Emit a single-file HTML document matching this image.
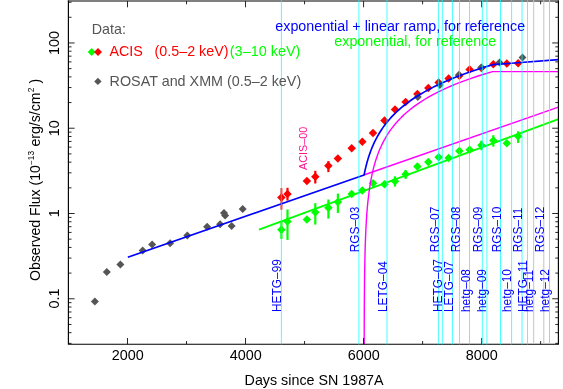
<!DOCTYPE html>
<html><head><meta charset="utf-8"><title>SN 1987A light curve</title>
<style>html,body{margin:0;padding:0;background:#fff;}svg{display:block}</style></head>
<body>
<svg width="563" height="389" viewBox="0 0 563 389" font-family="Liberation Sans, sans-serif" style="will-change:transform;transform:translateZ(0)">
<rect width="563" height="389" fill="#fff"/>
<defs><clipPath id="c"><rect x="68.4" y="1.1" width="490.0" height="343.09999999999997"/></clipPath></defs>
<line x1="281.40" y1="221.40" x2="281.40" y2="238.90" stroke="#00ff00" stroke-width="2.2"/>
<path d="M277.15 229.80L281.40 225.55L285.65 229.80L281.40 234.05Z" fill="#00ff00"/>
<line x1="287.50" y1="209.50" x2="287.50" y2="239.90" stroke="#00ff00" stroke-width="2.2"/>
<path d="M283.25 221.50L287.50 217.25L291.75 221.50L287.50 225.75Z" fill="#00ff00"/>
<path d="M302.65 219.60L306.90 215.35L311.15 219.60L306.90 223.85Z" fill="#00ff00"/>
<line x1="315.30" y1="203.20" x2="315.30" y2="224.60" stroke="#00ff00" stroke-width="2.2"/>
<path d="M311.05 212.30L315.30 208.05L319.55 212.30L315.30 216.55Z" fill="#00ff00"/>
<line x1="328.40" y1="199.50" x2="328.40" y2="218.60" stroke="#00ff00" stroke-width="2.2"/>
<path d="M324.15 207.80L328.40 203.55L332.65 207.80L328.40 212.05Z" fill="#00ff00"/>
<line x1="337.90" y1="193.60" x2="337.90" y2="212.90" stroke="#00ff00" stroke-width="2.2"/>
<path d="M333.65 202.00L337.90 197.75L342.15 202.00L337.90 206.25Z" fill="#00ff00"/>
<path d="M347.45 193.90L351.70 189.65L355.95 193.90L351.70 198.15Z" fill="#00ff00"/>
<path d="M358.05 190.60L362.30 186.35L366.55 190.60L362.30 194.85Z" fill="#00ff00"/>
<path d="M368.75 183.30L373.00 179.05L377.25 183.30L373.00 187.55Z" fill="#00ff00"/>
<path d="M380.25 184.30L384.50 180.05L388.75 184.30L384.50 188.55Z" fill="#00ff00"/>
<line x1="395.00" y1="176.30" x2="395.00" y2="186.60" stroke="#00ff00" stroke-width="2.2"/>
<path d="M390.75 181.30L395.00 177.05L399.25 181.30L395.00 185.55Z" fill="#00ff00"/>
<line x1="405.60" y1="169.90" x2="405.60" y2="178.90" stroke="#00ff00" stroke-width="2.2"/>
<path d="M401.35 174.30L405.60 170.05L409.85 174.30L405.60 178.55Z" fill="#00ff00"/>
<path d="M413.15 166.40L417.40 162.15L421.65 166.40L417.40 170.65Z" fill="#00ff00"/>
<path d="M424.05 162.10L428.30 157.85L432.55 162.10L428.30 166.35Z" fill="#00ff00"/>
<path d="M434.35 157.20L438.60 152.95L442.85 157.20L438.60 161.45Z" fill="#00ff00"/>
<path d="M444.35 158.00L448.60 153.75L452.85 158.00L448.60 162.25Z" fill="#00ff00"/>
<path d="M455.05 150.90L459.30 146.65L463.55 150.90L459.30 155.15Z" fill="#00ff00"/>
<path d="M465.35 149.80L469.60 145.55L473.85 149.80L469.60 154.05Z" fill="#00ff00"/>
<line x1="481.40" y1="140.60" x2="481.40" y2="150.20" stroke="#00ff00" stroke-width="2.2"/>
<path d="M477.15 145.20L481.40 140.95L485.65 145.20L481.40 149.45Z" fill="#00ff00"/>
<line x1="493.30" y1="135.20" x2="493.30" y2="146.70" stroke="#00ff00" stroke-width="2.2"/>
<path d="M489.05 140.60L493.30 136.35L497.55 140.60L493.30 144.85Z" fill="#00ff00"/>
<path d="M502.55 143.20L506.80 138.95L511.05 143.20L506.80 147.45Z" fill="#00ff00"/>
<line x1="518.10" y1="131.30" x2="518.10" y2="142.90" stroke="#00ff00" stroke-width="2.2"/>
<path d="M513.85 136.20L518.10 131.95L522.35 136.20L518.10 140.45Z" fill="#00ff00"/>
<line x1="281.40" y1="188.00" x2="281.40" y2="209.70" stroke="#ff8080" stroke-width="2.6"/>
<path d="M277.15 197.40L281.40 193.15L285.65 197.40L281.40 201.65Z" fill="#ff0000"/>
<line x1="287.50" y1="187.80" x2="287.50" y2="200.60" stroke="#ff0000" stroke-width="2.2"/>
<path d="M283.25 194.00L287.50 189.75L291.75 194.00L287.50 198.25Z" fill="#ff0000"/>
<path d="M302.65 181.00L306.90 176.75L311.15 181.00L306.90 185.25Z" fill="#ff0000"/>
<line x1="315.30" y1="170.80" x2="315.30" y2="183.50" stroke="#ff0000" stroke-width="2.2"/>
<path d="M311.05 176.80L315.30 172.55L319.55 176.80L315.30 181.05Z" fill="#ff0000"/>
<line x1="328.40" y1="161.10" x2="328.40" y2="172.10" stroke="#ff0000" stroke-width="2.2"/>
<path d="M324.15 165.70L328.40 161.45L332.65 165.70L328.40 169.95Z" fill="#ff0000"/>
<path d="M333.65 158.50L337.90 154.25L342.15 158.50L337.90 162.75Z" fill="#ff0000"/>
<path d="M347.45 148.20L351.70 143.95L355.95 148.20L351.70 152.45Z" fill="#ff0000"/>
<path d="M358.05 141.70L362.30 137.45L366.55 141.70L362.30 145.95Z" fill="#ff0000"/>
<path d="M368.75 133.00L373.00 128.75L377.25 133.00L373.00 137.25Z" fill="#ff0000"/>
<path d="M380.25 120.50L384.50 116.25L388.75 120.50L384.50 124.75Z" fill="#ff0000"/>
<path d="M390.75 109.40L395.00 105.15L399.25 109.40L395.00 113.65Z" fill="#ff0000"/>
<path d="M401.35 101.90L405.60 97.65L409.85 101.90L405.60 106.15Z" fill="#ff0000"/>
<path d="M413.15 94.00L417.40 89.75L421.65 94.00L417.40 98.25Z" fill="#ff0000"/>
<path d="M424.05 88.00L428.30 83.75L432.55 88.00L428.30 92.25Z" fill="#ff0000"/>
<path d="M434.35 82.40L438.60 78.15L442.85 82.40L438.60 86.65Z" fill="#ff0000"/>
<path d="M444.35 78.50L448.60 74.25L452.85 78.50L448.60 82.75Z" fill="#ff0000"/>
<path d="M455.05 75.70L459.30 71.45L463.55 75.70L459.30 79.95Z" fill="#ff0000"/>
<path d="M465.35 69.60L469.60 65.35L473.85 69.60L469.60 73.85Z" fill="#ff0000"/>
<path d="M477.15 68.00L481.40 63.75L485.65 68.00L481.40 72.25Z" fill="#ff0000"/>
<path d="M489.05 64.30L493.30 60.05L497.55 64.30L493.30 68.55Z" fill="#ff0000"/>
<path d="M502.55 63.60L506.80 59.35L511.05 63.60L506.80 67.85Z" fill="#ff0000"/>
<path d="M513.85 63.20L518.10 58.95L522.35 63.20L518.10 67.45Z" fill="#ff0000"/>
<path d="M90.90 301.60L94.90 297.60L98.90 301.60L94.90 305.60Z" fill="#555555"/>
<path d="M102.80 272.10L106.80 268.10L110.80 272.10L106.80 276.10Z" fill="#555555"/>
<path d="M116.40 264.50L120.40 260.50L124.40 264.50L120.40 268.50Z" fill="#555555"/>
<path d="M138.70 250.50L142.70 246.50L146.70 250.50L142.70 254.50Z" fill="#555555"/>
<path d="M148.10 244.40L152.10 240.40L156.10 244.40L152.10 248.40Z" fill="#555555"/>
<path d="M166.10 243.30L170.10 239.30L174.10 243.30L170.10 247.30Z" fill="#555555"/>
<path d="M183.30 235.40L187.30 231.40L191.30 235.40L187.30 239.40Z" fill="#555555"/>
<path d="M203.10 226.80L207.10 222.80L211.10 226.80L207.10 230.80Z" fill="#555555"/>
<path d="M216.10 224.20L220.10 220.20L224.10 224.20L220.10 228.20Z" fill="#555555"/>
<path d="M220.00 213.10L224.00 209.10L228.00 213.10L224.00 217.10Z" fill="#555555"/>
<path d="M221.10 215.60L225.10 211.60L229.10 215.60L225.10 219.60Z" fill="#555555"/>
<path d="M227.60 226.00L231.60 222.00L235.60 226.00L231.60 230.00Z" fill="#555555"/>
<path d="M238.70 209.10L242.70 205.10L246.70 209.10L242.70 213.10Z" fill="#555555"/>
<path d="M413.90 97.00L417.80 93.10L421.70 97.00L417.80 100.90Z" fill="#555555"/>
<path d="M436.00 85.00L439.90 81.10L443.80 85.00L439.90 88.90Z" fill="#555555"/>
<path d="M455.10 74.70L459.00 70.80L462.90 74.70L459.00 78.60Z" fill="#555555"/>
<path d="M477.50 67.30L481.40 63.40L485.30 67.30L481.40 71.20Z" fill="#555555"/>
<path d="M495.60 62.50L499.50 58.60L503.40 62.50L499.50 66.40Z" fill="#555555"/>
<path d="M518.60 57.50L522.50 53.60L526.40 57.50L522.50 61.40Z" fill="#555555"/>
<g clip-path="url(#c)"><line x1="259" y1="229.6" x2="558.4" y2="119.12" stroke="#00ff00" stroke-width="1.8"/><line x1="363.80" y1="175.01" x2="558.40" y2="107.20" stroke="#ff00ff" stroke-width="1.4"/><polyline points="364.10,525.85 364.10,523.30 364.10,520.74 364.10,518.19 364.10,515.64 364.10,513.08 364.10,510.53 364.10,507.98 364.10,505.42 364.10,502.87 364.10,500.32 364.10,497.77 364.10,495.21 364.10,492.66 364.10,490.11 364.10,487.55 364.10,485.00 364.10,482.45 364.10,479.89 364.10,477.34 364.10,474.79 364.10,472.24 364.10,469.68 364.10,467.13 364.10,464.58 364.10,462.02 364.10,459.47 364.10,456.92 364.10,454.36 364.10,451.81 364.10,449.26 364.10,446.71 364.10,444.15 364.10,441.60 364.10,439.05 364.10,436.49 364.10,433.94 364.10,431.39 364.10,428.83 364.10,426.28 364.10,423.73 364.11,421.18 364.11,418.62 364.11,416.07 364.11,413.52 364.11,410.96 364.11,408.41 364.11,405.86 364.11,403.30 364.11,400.75 364.11,398.20 364.11,395.65 364.12,393.09 364.12,390.54 364.12,387.99 364.12,385.43 364.12,382.88 364.13,380.33 364.13,377.77 364.13,375.22 364.13,372.67 364.13,370.12 364.14,367.56 364.14,365.01 364.14,362.46 364.15,359.90 364.15,357.35 364.16,354.80 364.16,352.24 364.16,349.69 364.17,347.14 364.17,344.59 364.18,342.03 364.19,339.48 364.19,336.93 364.20,334.37 364.21,331.82 364.22,329.27 364.22,326.71 364.23,324.16 364.24,321.61 364.25,319.06 364.27,316.50 364.28,313.95 364.29,311.40 364.30,308.84 364.32,306.29 364.34,303.74 364.35,301.18 364.37,298.63 364.39,296.08 364.41,293.53 364.43,290.97 364.46,288.42 364.48,285.87 364.51,283.31 364.54,280.76 364.57,278.21 364.61,275.65 364.65,273.10 364.69,270.55 364.73,268.00 364.77,265.44 364.82,262.89 364.87,260.34 364.93,257.78 364.99,255.23 365.05,252.68 365.12,250.12 365.19,247.57 365.27,245.02 365.36,242.47 365.45,239.91 365.54,237.36 365.65,234.81 365.76,232.25 365.88,229.70 366.00,227.15 366.14,224.59 366.29,222.04 366.44,219.49 366.61,216.94 366.79,214.38 366.98,211.83 367.19,209.28 367.41,206.72 367.65,204.17 367.90,201.62 368.18,199.06 368.47,196.51 368.78,193.96 369.12,191.41 369.48,188.85 369.86,186.30 370.27,183.75 370.71,181.19 371.19,178.64 371.70,176.09 372.24,173.53 372.82,170.98 373.45,168.43 374.11,165.88 374.83,163.32 375.60,160.77 376.42,158.22 377.30,155.66 378.25,153.11 379.26,150.56 380.34,148.00 381.51,145.45 382.75,142.90 384.09,140.35 385.52,137.79 387.05,135.24 388.69,132.69 390.45,130.13 392.33,127.58 394.35,125.03 396.52,122.47 398.84,119.92 401.32,117.37 403.98,114.82 406.84,112.26 409.89,109.71 413.17,107.16 416.68,104.60 420.44,102.05 424.47,99.50 428.79,96.94 433.41,94.39 438.37,91.84 443.68,89.29 449.38,86.73 455.48,84.18 462.01,81.63 469.01,79.07 476.52,76.52 484.56,73.97 492.60,71.58 558.40,71.58" fill="none" stroke="#ff00ff" stroke-width="1.4" stroke-linejoin="round"/><polyline points="127.80,257.25 364.09,174.91 364.10,174.91 364.10,174.91 364.10,174.91 364.10,174.90 364.10,174.90 364.10,174.90 364.10,174.90 364.10,174.90 364.10,174.90 364.10,174.90 364.10,174.90 364.10,174.90 364.10,174.90 364.10,174.90 364.10,174.90 364.10,174.90 364.10,174.90 364.10,174.90 364.10,174.90 364.10,174.90 364.10,174.90 364.10,174.90 364.10,174.89 364.10,174.89 364.10,174.89 364.10,174.89 364.10,174.89 364.10,174.89 364.10,174.89 364.10,174.89 364.10,174.88 364.10,174.88 364.10,174.88 364.10,174.88 364.10,174.88 364.10,174.88 364.10,174.87 364.10,174.87 364.10,174.87 364.10,174.86 364.10,174.86 364.11,174.86 364.11,174.85 364.11,174.85 364.11,174.85 364.11,174.84 364.11,174.84 364.11,174.83 364.11,174.83 364.11,174.82 364.11,174.81 364.11,174.81 364.12,174.80 364.12,174.79 364.12,174.78 364.12,174.78 364.12,174.77 364.13,174.76 364.13,174.74 364.13,174.73 364.13,174.72 364.13,174.71 364.14,174.69 364.14,174.68 364.14,174.66 364.15,174.64 364.15,174.62 364.16,174.60 364.16,174.58 364.16,174.56 364.17,174.53 364.17,174.51 364.18,174.48 364.19,174.45 364.19,174.42 364.20,174.38 364.21,174.34 364.22,174.30 364.22,174.26 364.23,174.22 364.24,174.17 364.25,174.11 364.27,174.06 364.28,174.00 364.29,173.93 364.30,173.86 364.32,173.79 364.34,173.71 364.35,173.63 364.37,173.54 364.39,173.44 364.41,173.34 364.43,173.23 364.46,173.11 364.48,172.99 364.51,172.85 364.54,172.71 364.57,172.56 364.61,172.40 364.65,172.22 364.69,172.04 364.73,171.84 364.77,171.63 364.82,171.41 364.87,171.17 364.93,170.92 364.99,170.65 365.05,170.36 365.12,170.05 365.19,169.73 365.27,169.39 365.36,169.02 365.45,168.63 365.54,168.22 365.65,167.79 365.76,167.33 365.88,166.84 366.00,166.32 366.14,165.78 366.29,165.21 366.44,164.60 366.61,163.96 366.79,163.29 366.98,162.58 367.19,161.84 367.41,161.06 367.65,160.24 367.90,159.38 368.18,158.49 368.47,157.55 368.78,156.57 369.12,155.55 369.48,154.49 369.86,153.38 370.27,152.23 370.71,151.03 371.19,149.79 371.70,148.51 372.24,147.18 372.82,145.80 373.45,144.39 374.11,142.92 374.83,141.42 375.60,139.87 376.42,138.28 377.30,136.65 378.25,134.97 379.26,133.26 380.34,131.50 381.51,129.71 382.75,127.88 384.09,126.01 385.52,124.10 387.05,122.16 388.69,120.19 390.45,118.18 392.33,116.14 394.35,114.07 396.52,111.97 398.84,109.85 401.32,107.69 403.98,105.50 406.84,103.29 409.89,101.05 413.17,98.79 416.68,96.50 420.44,94.19 424.47,91.86 428.79,89.50 433.41,87.11 438.37,84.71 443.68,82.28 449.38,79.82 455.48,77.34 462.01,74.83 469.01,72.30 476.52,69.74 484.56,67.14 492.60,64.68 558.40,59.64" fill="none" stroke="#0000ff" stroke-width="1.65" stroke-linejoin="round"/></g>
<path d="M68.4 0.6000000000000001V344.2H558.4V0.6000000000000001" fill="none" stroke="#000" stroke-width="1.15" stroke-linejoin="miter"/>
<line x1="67.83000000000001" y1="1.0" x2="558.97" y2="1.0" stroke="#000" stroke-width="1.0"/>
<path d="M127.50 344.2v-6.2M127.50 1.1v6.2M186.52 344.2v-3.2M186.52 1.1v3.2M245.54 344.2v-6.2M245.54 1.1v6.2M304.56 344.2v-3.2M304.56 1.1v3.2M363.58 344.2v-6.2M363.58 1.1v6.2M422.60 344.2v-3.2M422.60 1.1v3.2M481.62 344.2v-6.2M481.62 1.1v6.2M540.64 344.2v-3.2M540.64 1.1v3.2M68.4 343.36h3.1M558.4 343.36h-3.1M68.4 332.70h3.1M558.4 332.70h-3.1M68.4 324.44h3.1M558.4 324.44h-3.1M68.4 317.69h3.1M558.4 317.69h-3.1M68.4 311.98h3.1M558.4 311.98h-3.1M68.4 307.03h3.1M558.4 307.03h-3.1M68.4 302.67h3.1M558.4 302.67h-3.1M68.4 298.77h6.2M558.4 298.77h-6.2M68.4 273.10h3.1M558.4 273.10h-3.1M68.4 258.09h3.1M558.4 258.09h-3.1M68.4 247.43h3.1M558.4 247.43h-3.1M68.4 239.17h3.1M558.4 239.17h-3.1M68.4 232.42h3.1M558.4 232.42h-3.1M68.4 226.71h3.1M558.4 226.71h-3.1M68.4 221.76h3.1M558.4 221.76h-3.1M68.4 217.40h3.1M558.4 217.40h-3.1M68.4 213.50h6.2M558.4 213.50h-6.2M68.4 187.83h3.1M558.4 187.83h-3.1M68.4 172.82h3.1M558.4 172.82h-3.1M68.4 162.16h3.1M558.4 162.16h-3.1M68.4 153.90h3.1M558.4 153.90h-3.1M68.4 147.15h3.1M558.4 147.15h-3.1M68.4 141.44h3.1M558.4 141.44h-3.1M68.4 136.49h3.1M558.4 136.49h-3.1M68.4 132.13h3.1M558.4 132.13h-3.1M68.4 128.23h6.2M558.4 128.23h-6.2M68.4 102.56h3.1M558.4 102.56h-3.1M68.4 87.55h3.1M558.4 87.55h-3.1M68.4 76.89h3.1M558.4 76.89h-3.1M68.4 68.63h3.1M558.4 68.63h-3.1M68.4 61.88h3.1M558.4 61.88h-3.1M68.4 56.17h3.1M558.4 56.17h-3.1M68.4 51.22h3.1M558.4 51.22h-3.1M68.4 46.86h3.1M558.4 46.86h-3.1M68.4 42.96h6.2M558.4 42.96h-6.2M68.4 17.29h3.1M558.4 17.29h-3.1M68.4 2.28h3.1M558.4 2.28h-3.1" stroke="#000" stroke-width="0.85" fill="none"/>
<line x1="281.4" y1="0" x2="281.4" y2="344.5" stroke="#00ffff" stroke-width="0.85" opacity="0.85"/>
<line x1="358.9" y1="0" x2="358.9" y2="344.5" stroke="#00ffff" stroke-width="0.85" opacity="0.85"/>
<line x1="387.0" y1="0" x2="387.0" y2="344.5" stroke="#00ffff" stroke-width="0.85" opacity="0.85"/>
<line x1="438.4" y1="0" x2="438.4" y2="344.5" stroke="#00ffff" stroke-width="0.85" opacity="0.85"/>
<line x1="442.3" y1="0" x2="442.3" y2="344.5" stroke="#00ffff" stroke-width="0.85" opacity="0.85"/>
<line x1="452.4" y1="0" x2="452.4" y2="344.5" stroke="#00ffff" stroke-width="0.85" opacity="0.85"/>
<line x1="459.5" y1="0" x2="459.5" y2="344.5" stroke="#00ffff" stroke-width="0.85" opacity="0.85"/>
<line x1="469.5" y1="0" x2="469.5" y2="344.5" stroke="#00ffff" stroke-width="0.85" opacity="0.85"/>
<line x1="482.3" y1="0" x2="482.3" y2="344.5" stroke="#00ffff" stroke-width="0.85" opacity="0.85"/>
<line x1="486.9" y1="0" x2="486.9" y2="344.5" stroke="#00ffff" stroke-width="0.85" opacity="0.85"/>
<line x1="500.5" y1="0" x2="500.5" y2="344.5" stroke="#00ffff" stroke-width="0.85" opacity="0.85"/>
<line x1="511.6" y1="0" x2="511.6" y2="344.5" stroke="#00ffff" stroke-width="0.85" opacity="0.85"/>
<line x1="522.0" y1="0" x2="522.0" y2="344.5" stroke="#00ffff" stroke-width="0.85" opacity="0.85"/>
<line x1="527.5" y1="0" x2="527.5" y2="344.5" stroke="#00ffff" stroke-width="0.85" opacity="0.85"/>
<line x1="533.7" y1="0" x2="533.7" y2="343.7" stroke="#c4c4c4" stroke-width="1"/>
<line x1="543.8" y1="0" x2="543.8" y2="343.7" stroke="#c4c4c4" stroke-width="1"/>
<line x1="549.5" y1="0" x2="549.5" y2="343.7" stroke="#c4c4c4" stroke-width="1"/>
<line x1="281.4" y1="188" x2="281.4" y2="209.7" stroke="#808080" stroke-width="1"/>
<text x="127.80" y="360" font-size="14.4" text-anchor="middle" fill="#000">2000</text>
<text x="245.80" y="360" font-size="14.4" text-anchor="middle" fill="#000">4000</text>
<text x="363.80" y="360" font-size="14.4" text-anchor="middle" fill="#000">6000</text>
<text x="481.80" y="360" font-size="14.4" text-anchor="middle" fill="#000">8000</text>
<text transform="translate(59.2 298.40) rotate(-90)" font-size="14.4" text-anchor="middle" fill="#000">0.1</text>
<text transform="translate(59.2 213.30) rotate(-90)" font-size="14.4" text-anchor="middle" fill="#000">1</text>
<text transform="translate(59.2 128.20) rotate(-90)" font-size="14.4" text-anchor="middle" fill="#000">10</text>
<text transform="translate(59.2 43.10) rotate(-90)" font-size="14.4" text-anchor="middle" fill="#000">100</text>
<text x="244.6" y="384.7" font-size="14.2" fill="#000" textLength="139" lengthAdjust="spacingAndGlyphs">Days since SN 1987A</text>
<text transform="translate(40 281.0) rotate(-90)" font-size="14.1" fill="#000">Observed Flux (10<tspan font-size="8.4" dy="-6">−13</tspan><tspan dy="6" dx="0.4"> erg/s/cm</tspan><tspan font-size="8.4" dy="-6" dx="0.3">2</tspan><tspan dy="6" dx="0"> )</tspan></text>
<text x="91.8" y="34.3" font-size="14.3" fill="#555">Data:</text>
<path d="M87.70 51.90L91.70 47.90L95.70 51.90L91.70 55.90Z" fill="#00ff00"/>
<path d="M94.00 51.90L98.00 47.90L102.00 51.90L98.00 55.90Z" fill="#ff0000"/>
<text x="109.4" y="56.3" font-size="14.3" fill="#ff0000">ACIS</text>
<text x="154.6" y="56.3" font-size="14.3" fill="#ff0000">(0.5–2 keV)</text>
<text x="229.8" y="56.3" font-size="14.3" fill="#00ff00" textLength="70.6" lengthAdjust="spacingAndGlyphs">(3–10 keV)</text>
<path d="M94.20 81.40L97.90 77.70L101.60 81.40L97.90 85.10Z" fill="#555555"/>
<text x="109.6" y="86.1" font-size="14.3" fill="#555" textLength="191.6" lengthAdjust="spacingAndGlyphs">ROSAT and XMM (0.5–2 keV)</text>
<text x="275.3" y="30.5" font-size="14" fill="#0000ff" textLength="249.8" lengthAdjust="spacingAndGlyphs">exponential + linear ramp, for reference</text>
<text x="334.3" y="46.4" font-size="14" fill="#00ff00" textLength="162" lengthAdjust="spacingAndGlyphs">exponential, for reference</text>
<text transform="translate(307.2 170.0) rotate(-90)" font-size="11" fill="#ff1493" textLength="43.4" lengthAdjust="spacingAndGlyphs">ACIS–00</text>
<text transform="translate(281.4 312.0) rotate(-90)" font-size="11.9" fill="#0000ff">HETG–99</text>
<text transform="translate(358.9 252.3) rotate(-90)" font-size="11.9" fill="#0000ff">RGS–03</text>
<text transform="translate(387.0 312.0) rotate(-90)" font-size="11.9" fill="#0000ff">LETG–04</text>
<text transform="translate(441.7 312.0) rotate(-90)" font-size="11.9" fill="#0000ff">HETG–07</text>
<text transform="translate(439.3 252.3) rotate(-90)" font-size="11.9" fill="#0000ff">RGS–07</text>
<text transform="translate(453.4 312.0) rotate(-90)" font-size="11.9" fill="#0000ff">LETG–07</text>
<text transform="translate(459.6 252.3) rotate(-90)" font-size="11.9" fill="#0000ff">RGS–08</text>
<text transform="translate(469.6 312.0) rotate(-90)" font-size="11.9" fill="#0000ff">hetg–08</text>
<text transform="translate(481.7 252.3) rotate(-90)" font-size="11.9" fill="#0000ff">RGS–09</text>
<text transform="translate(486.4 312.0) rotate(-90)" font-size="11.9" fill="#0000ff">hetg–09</text>
<text transform="translate(500.9 252.3) rotate(-90)" font-size="11.9" fill="#0000ff">RGS–10</text>
<text transform="translate(511.3 312.0) rotate(-90)" font-size="11.9" fill="#0000ff">hetg–10</text>
<text transform="translate(521.6 252.3) rotate(-90)" font-size="11.9" fill="#0000ff">RGS–11</text>
<text transform="translate(526.7 312.0) rotate(-90)" font-size="11.9" fill="#0000ff">HETG–11</text>
<text transform="translate(533.2 312.0) rotate(-90)" font-size="11.9" fill="#0000ff">hetg–11</text>
<text transform="translate(544 252.3) rotate(-90)" font-size="11.9" fill="#0000ff">RGS–12</text>
<text transform="translate(549.4 312.0) rotate(-90)" font-size="11.9" fill="#0000ff">hetg–12</text>
</svg>
</body></html>
